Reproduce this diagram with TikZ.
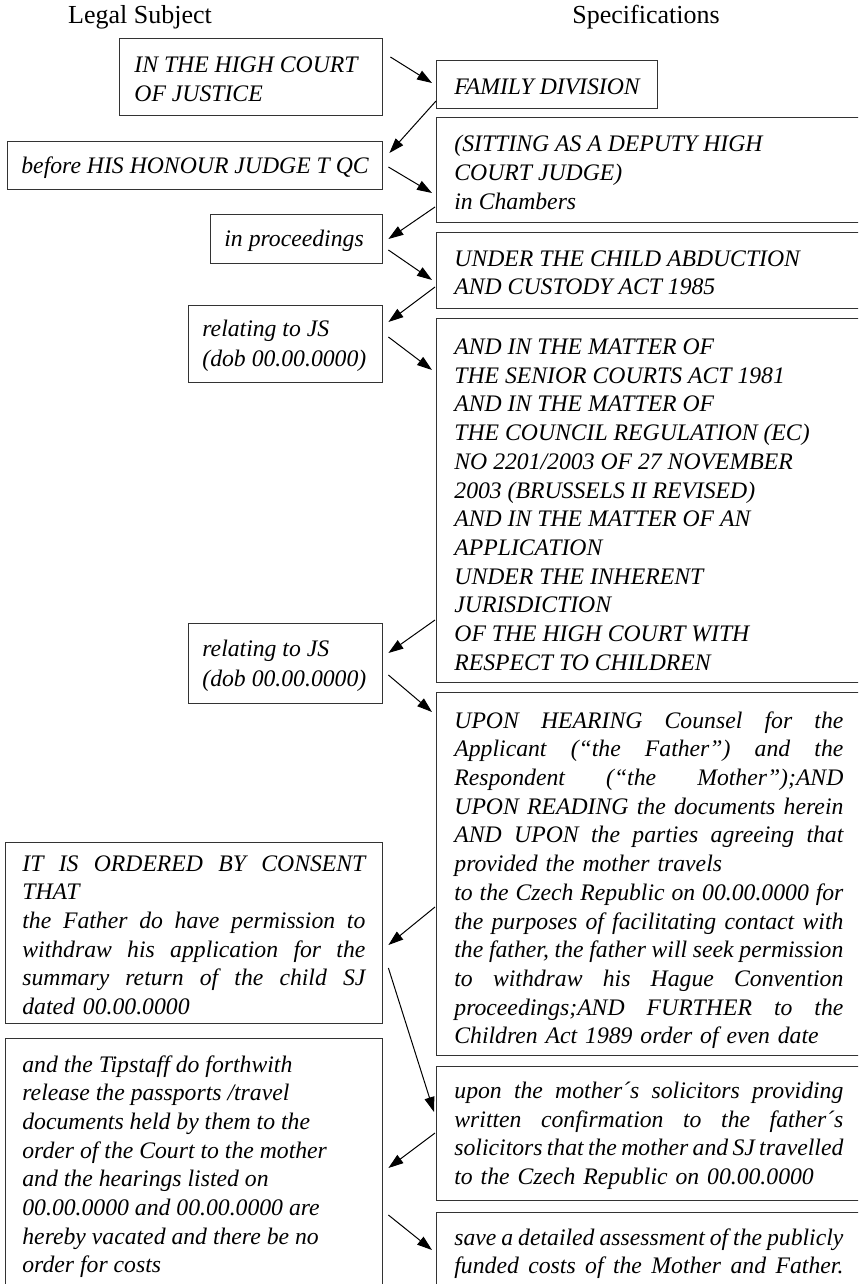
\documentclass[tikz,border=0pt]{standalone}
\usepackage{fontspec}
\setmainfont{Liberation Serif}
\usetikzlibrary{arrows.meta}
% one justified line of a box (spaces may stretch or shrink)
\newcommand{\jline}[1]{\makebox[\linewidth][s]{\spaceskip=.25em plus 1em minus .16em\relax #1}}
\tikzset{
  px/.style={x=0.5pt,y=-0.5pt},
  heading/.style={font=\fontsize{13}{15}\selectfont, inner sep=0pt},
  frame/.style={draw=black!80, line width=0.7pt, inner sep=0pt, anchor=north west},
  txt/.style={font=\fontsize{11.85}{14.35}\selectfont\itshape, inner sep=0pt,
              anchor=west, align=left},
  arr/.style={-{Triangle[length=7.5pt,width=5pt]}, line width=0.5pt, black},
}
% framed box from (#2,#3) to (#4,#5); its text #8 starts #6 px from the left edge
\newcommand{\ibox}[8]{%
  \node[frame, minimum width={(#4-#2)*0.5pt}, minimum height={(#5-#3)*0.5pt}]
    (#1) at (#2,#3) {};
  \node[txt, #7] (#1t) at ([shift={(#6,2)}]#1.west) {#8};}
\begin{document}
\begin{tikzpicture}[px]
\useasboundingbox (0,0) rectangle (858,1284);
\clip (0,0) rectangle (858,1284);

% column headings
\node[heading] (hleft) at (140,17) {Legal Subject};
\node[heading] (hright) at (646,17) {Specifications};

% left column: legal subject
\ibox{A}{119}{38}{382}{115}{15}{}{IN THE HIGH COURT\\OF JUSTICE}
\ibox{C}{7}{141}{382}{189}{14}{}{before HIS HONOUR JUDGE T QC}
\ibox{E}{210}{214}{382}{263}{14}{}{in proceedings}
\ibox{G}{188}{305}{382}{382}{14}{}{relating to JS\\[0.6pt](dob 00.00.0000)}
\ibox{I}{188}{623}{382}{703}{14}{}{relating to JS\\[0.6pt](dob 00.00.0000)}
\ibox{K}{5}{842}{382}{1023}{17}{text width=171.5pt}{%
  \jline{IT IS ORDERED BY CONSENT}\\
  THAT\\
  \jline{the Father do have permission to}\\
  \jline{withdraw his application for the}\\
  \jline{summary return of the child SJ}\\
  dated 00.00.0000}
\ibox{M}{5}{1038}{382}{1290}{17}{}{%
  and the Tipstaff do forthwith\\
  release the passports /travel\\
  documents held by them to the\\
  order of the Court to the mother\\
  and the hearings listed on\\
  00.00.0000 and 00.00.0000 are\\
  hereby vacated and there be no\\
  order for costs}

% right column: specifications
\ibox{B}{436}{60}{657}{108}{18}{}{FAMILY DIVISION}
\ibox{D}{436}{117}{862}{222}{18}{}{(SITTING AS A DEPUTY HIGH\\COURT JUDGE)\\in Chambers}
\ibox{F}{436}{232}{862}{308}{18}{}{UNDER THE CHILD ABDUCTION\\AND CUSTODY ACT 1985}
\ibox{H}{436}{318}{862}{682}{18}{yshift=-1pt}{%
  AND IN THE MATTER OF\\
  THE SENIOR COURTS ACT 1981\\
  AND IN THE MATTER OF\\
  THE COUNCIL REGULATION (EC)\\
  NO 2201/2003 OF 27 NOVEMBER\\
  2003 (BRUSSELS II REVISED)\\
  AND IN THE MATTER OF AN\\
  APPLICATION\\
  UNDER THE INHERENT\\
  JURISDICTION\\
  OF THE HIGH COURT WITH\\
  RESPECT TO CHILDREN}
\ibox{J}{436}{692}{862}{1055}{18}{text width=194.5pt, yshift=-2pt}{%
  \jline{UPON HEARING Counsel for the}\\
  \jline{Applicant (“the Father”) and the}\\
  \jline{Respondent (“the Mother”);AND}\\
  \jline{UPON READING the documents herein}\\
  \jline{AND UPON the parties agreeing that}\\
  provided the mother travels\\
  \jline{to the Czech Republic on 00.00.0000 for}\\
  \jline{the purposes of facilitating contact with}\\
  \jline{the father, the father will seek permission}\\
  \jline{to withdraw his Hague Convention}\\
  \jline{proceedings;AND FURTHER to the}\\
  Children Act 1989 order of even date}
\ibox{L}{436}{1066}{862}{1200}{18}{text width=194.5pt}{%
  \jline{upon the mother´s solicitors providing}\\
  \jline{written confirmation to the father´s}\\
  \jline{solicitors that the mother and SJ travelled}\\
  to the Czech Republic on 00.00.0000}
\ibox{N}{436}{1212}{862}{1290}{18}{text width=194.5pt}{%
  \jline{save a detailed assessment of the publicly}\\
  \jline{funded costs of the Mother and Father.}}

% zig-zag of connectors between the two columns
\draw[arr] ([shift={(7,19)}]A.north east) -- ([shift={(-4,23)}]B.north west);
\draw[arr] ([shift={(0,41)}]B.north west) -- ([shift={(6,12)}]C.north east);
\draw[arr] ([shift={(5,26)}]C.north east) -- ([shift={(-4,76)}]D.north west);
\draw[arr] ([shift={(-1,90)}]D.north west) -- ([shift={(5,25)}]E.north east);
\draw[arr] ([shift={(5,36)}]E.north east) -- ([shift={(-4,48)}]F.north west);
\draw[arr] ([shift={(-1,55)}]F.north west) -- ([shift={(5,17)}]G.north east);
\draw[arr] ([shift={(5,32)}]G.north east) -- ([shift={(-4,52)}]H.north west);
\draw[arr] ([shift={(-1,302)}]H.north west) -- ([shift={(5,30)}]I.north east);
\draw[arr] ([shift={(5,52)}]I.north east) -- ([shift={(-4,20)}]J.north west);
\draw[arr] ([shift={(-1,215)}]J.north west) -- ([shift={(5,103)}]K.north east);
\draw[arr] ([shift={(5,126)}]K.north east) -- ([shift={(-2,46)}]L.north west);
\draw[arr] ([shift={(-1,67)}]L.north west) -- ([shift={(5,130)}]M.north east);
\draw[arr] ([shift={(5,177)}]M.north east) -- ([shift={(-4,38)}]N.north west);
\end{tikzpicture}
\end{document}
